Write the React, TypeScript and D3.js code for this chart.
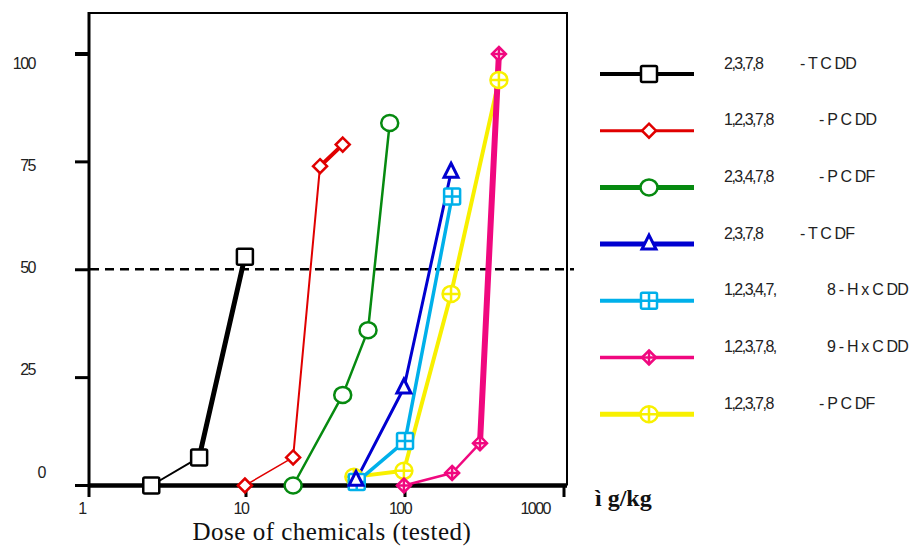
import React from "react";
import * as d3 from "d3";

// dose (ug/kg) and response (%) for each congener
const tcddDose = [2.5, 5, 9.7];
const tcddResp = [0, 6.5, 53];
const pcddDose = [9.7, 19.5, 28.8, 40];
const pcddResp = [0, 6.5, 74, 79];
const pcdfDose = [19.5, 40, 57.7, 79];
const pcdfResp = [0, 21, 36, 84];
const tcdfDose = [48.5, 97, 192];
const tcdfResp = [1.2, 22.6, 72.6];
const hxcdd478Dose = [49, 98.6, 195];
const hxcdd478Resp = [0.8, 10.3, 67];
const hxcdd789Dose = [97, 195, 292, 384];
const hxcdd789Resp = [0, 2.9, 9.8, 100];
const pcdf12378Dose = [47, 97, 192, 384];
const pcdf12378Resp = [2, 3.4, 44.4, 94];

const seriesNames = [
  ["2,3,7,8", "- T C DD"],
  ["1,2,3,7,8", "- P C DD"],
  ["2,3,4,7,8", "- P C DF"],
  ["2,3,7,8", "- T C DF"],
  ["1,2,3,4,7,", "8 - H x C DD"],
  ["1,2,3,7,8,", "9 - H x C DD"],
  ["1,2,3,7,8", "- P C DF"],
];

const yTicks = [0, 25, 50, 75, 100];
const xTicks = [1, 10, 100, 1000];

const styles = [
  { color: "#000000", marker: "square", widths: [2, 5], legendW: 4, nameGap: 76 },
  { color: "#e00000", marker: "diamond", widths: [1.5, 2, 4], legendW: 3, nameGap: 95 },
  { color: "#068a10", marker: "circle", widths: [2.5, 2.5, 2.5], legendW: 5, nameGap: 95 },
  { color: "#0000d0", marker: "triangle", widths: [3, 3], legendW: 5, nameGap: 76 },
  { color: "#00b0ea", marker: "squarePlus", widths: [3.5, 3.5], legendW: 4, nameGap: 103 },
  { color: "#f0087f", marker: "diamondPlus", widths: [2.5, 2.5, 6], legendW: 3.5, nameGap: 103 },
  { color: "#f8f000", marker: "circlePlus", widths: [4, 4, 4], legendW: 5, nameGap: 95 },
];

const doses = [tcddDose, pcddDose, pcdfDose, tcdfDose, hxcdd478Dose, hxcdd789Dose, pcdf12378Dose];
const resps = [tcddResp, pcddResp, pcdfResp, tcdfResp, hxcdd478Resp, hxcdd789Resp, pcdf12378Resp];

const x = d3.scaleLog().domain([1, 1000]).range([88, 565]);
const y = d3.scaleLinear().domain([0, 100]).range([485.5, 54]);
const yLab = d3.scaleLinear().domain([0, 100]).range([472, 63]);

const sans = "'Liberation Sans', Arial, sans-serif";
const serif = "'Liberation Serif', 'Times New Roman', serif";

function Marker({ kind, cx, cy, color }: { kind: string; cx: number; cy: number; color: string }) {
  const sw = 2.5;
  if (kind === "square" || kind === "squarePlus") {
    const s = 16;
    return (
      <g>
        <rect x={cx - s / 2} y={cy - s / 2} width={s} height={s} fill="#fff" stroke={color} strokeWidth={sw} rx={1.5} />
        {kind === "squarePlus" && (
          <path d={`M${cx - s / 2},${cy}H${cx + s / 2}M${cx},${cy - s / 2}V${cy + s / 2}`} stroke={color} strokeWidth={sw} />
        )}
      </g>
    );
  }
  if (kind === "diamond" || kind === "diamondPlus") {
    const r = 7;
    return (
      <g>
        <path d={`M${cx},${cy - r}L${cx + r},${cy}L${cx},${cy + r}L${cx - r},${cy}Z`} fill="#fff" stroke={color} strokeWidth={sw} />
        {kind === "diamondPlus" && (
          <path d={`M${cx - r},${cy}H${cx + r}M${cx},${cy - r}V${cy + r}`} stroke={color} strokeWidth={sw} />
        )}
      </g>
    );
  }
  if (kind === "circle" || kind === "circlePlus") {
    return (
      <g>
        <ellipse cx={cx} cy={cy} rx={8.5} ry={8} fill="#fff" stroke={color} strokeWidth={sw} />
        {kind === "circlePlus" && (
          <path d={`M${cx - 8},${cy}H${cx + 8}M${cx},${cy - 8}V${cy + 8}`} stroke={color} strokeWidth={sw} />
        )}
      </g>
    );
  }
  // triangle
  const h = 14;
  return (
    <path
      d={`M${cx},${cy - h / 2 - 2}L${cx + 7},${cy + h / 2 - 2}L${cx - 7},${cy + h / 2 - 2}Z`}
      fill="#fff"
      stroke={color}
      strokeWidth={sw + 0.5}
      strokeLinejoin="miter"
    />
  );
}

export default function App() {
  const width = 913;
  const height = 546;
  const legendX = 600;
  const legendY0 = 74;
  const legendStep = 56.7;
  // later series sit underneath the earlier ones
  const order = d3.range(doses.length).reverse();

  return (
    <svg width={width} height={height} style={{ position: "absolute", left: 0, top: 0, background: "#fff" }}>
      {/* frame */}
      <path d={`M${x(1)},13H567V${y(0)}`} fill="none" stroke="#000" strokeWidth={2} />
      <line x1={89} x2={89} y1={12} y2={497} stroke="#000" strokeWidth={3} />
      <line x1={88} x2={567} y1={y(0)} y2={y(0)} stroke="#000" strokeWidth={4.5} />

      {/* y ticks */}
      {yTicks.map((t) => (
        <g key={"y" + t}>
          <line x1={75} x2={89} y1={y(t)} y2={y(t)} stroke="#000" strokeWidth={t === 100 ? 4 : 3} />
          <text x={t === 0 ? 45 : 35} y={yLab(t)} dy="0.35em" textAnchor="end" fontFamily={sans} fontSize={16} letterSpacing={-1.5} fill="#222">
            {t}
          </text>
        </g>
      ))}

      {/* x ticks */}
      {xTicks.map((t, i) => (
        <g key={"x" + t}>
          {i > 0 && <line x1={x(t) - 1} x2={x(t) - 1} y1={y(0)} y2={497} stroke="#000" strokeWidth={3} />}
          <text
            x={i === xTicks.length - 1 ? x(t) - 15 : x(t) - 6}
            y={508}
            dy="0.35em"
            textAnchor={i === xTicks.length - 1 ? "end" : "middle"}
            fontFamily={sans}
            fontSize={16}
            letterSpacing={-1.5}
            fill="#222"
          >
            {t}
          </text>
        </g>
      ))}

      {/* 50% reference */}
      <line x1={90} x2={574} y1={y(50) - 0.5} y2={y(50) - 0.5} stroke="#000" strokeWidth={2.5} strokeDasharray="9,6" />

      {/* series lines */}
      {order.map((si) => {
        const ds = doses[si];
        const st = styles[si];
        const rs = resps[si];
        return (
          <g key={"s" + si}>
            {ds.slice(1).map((d, j) => (
              <line
                key={j}
                x1={x(ds[j])}
                y1={y(rs[j])}
                x2={x(d)}
                y2={y(rs[j + 1])}
                stroke={st.color}
                strokeWidth={st.widths[j]}
                strokeLinecap="round"
              />
            ))}
          </g>
        );
      })}

      {/* markers */}
      {order.map((si) => (
        <g key={"m" + si}>
          {doses[si].map((d, j) => (
            <Marker key={j} kind={styles[si].marker} cx={x(d)} cy={y(resps[si][j])} color={styles[si].color} />
          ))}
        </g>
      ))}

      {/* legend */}
      {seriesNames.map((nm, i) => {
        const st = styles[i];
        const ly = legendY0 + i * legendStep;
        return (
          <g key={"l" + i}>
            <line x1={legendX} x2={694} y1={ly} y2={ly} stroke={st.color} strokeWidth={st.legendW} />
            <Marker kind={st.marker} cx={649} cy={ly} color={st.color} />
            <text x={724} y={ly - 11} dy="0.35em" fontFamily={sans} fontSize={16} letterSpacing={-1.5} fill="#222">
              {nm[0]}
            </text>
            <text x={724 + st.nameGap} y={ly - 11} dy="0.35em" fontFamily={sans} fontSize={16} letterSpacing={-0.8} fill="#222">
              {nm[1]}
            </text>
          </g>
        );
      })}

      {/* axis titles */}
      <text x={332} y={540} textAnchor="middle" fontFamily={serif} fontSize={25} letterSpacing={0.5} fill="#111">
        Dose of chemicals (tested)
      </text>
      <text x={595} y={506} fontFamily={serif} fontSize={24} fontWeight="bold" fill="#111">
        ì g/kg
      </text>
    </svg>
  );
}
